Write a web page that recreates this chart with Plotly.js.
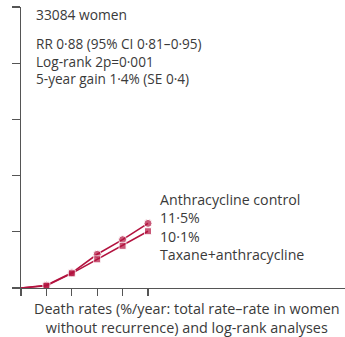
<!DOCTYPE html>
<html>
<head>
<meta charset="utf-8">
<script src="https://cdn.plot.ly/plotly-3.0.1.min.js"></script>
<style>html,body{margin:0;padding:0;background:#fff;}#chart{width:345px;height:337px;}</style>
</head>
<body>
<div id="chart"></div>
<script>
const years = [0, 1, 2, 3, 4, 5];
const anthracyclineControl = [0, 0.5, 2.7, 6.0, 8.6, 11.5];
const taxaneAnthracycline = [0, 0.4, 2.6, 5.1, 7.5, 10.1];
const xTicks = [0, 1, 2, 3, 4, 5];
const yTicks = [0, 10, 20, 30, 40, 50];
const statLines = ["RR 0·88 (95% CI 0·81–0·95)", "Log-rank 2p=0·001", "5-year gain 1·4% (SE 0·4)"];
const headline = "33084 women";
const seriesLabels = ["Anthracycline control", "11·5%", "10·1%", "Taxane+anthracycline"];
const xTitle = ["Death rates (%/year: total rate–rate in women", "without recurrence) and log-rank analyses"];

const red = '#b3133f';
const txt = '#3a3a3a';
const font = 'Open Sans, Noto Sans, sans-serif';
const markerSizes = years.map((y, i) => i === 0 ? 0 : 8);

const traces = [
  {x: years, y: anthracyclineControl, mode: 'lines+markers', line: {color: red, width: 1.6},
   marker: {symbol: 'circle', size: markerSizes, color: red}, hoverinfo: 'skip'},
  {x: years, y: taxaneAnthracycline, mode: 'lines+markers', line: {color: red, width: 1.6},
   marker: {symbol: 'square', size: markerSizes.map(s => s ? 7 : 0), color: red}, hoverinfo: 'skip'}
];

const W = 345, H = 337, L = 21, T = 7, B = 49;
const plotH = H - T - B, plotW = W - L;
const px = x => (x - L) / plotW;
const py = y => (H - B - y) / plotH;
function ann(text, x, y, anchor, size, align) {
  return {text: text, xref: 'paper', yref: 'paper', x: px(x), y: py(y), xanchor: anchor || 'left',
    yanchor: 'middle', align: align || 'left', showarrow: false, borderpad: 0,
    font: {family: font, size: size || 14, color: txt}};
}
const annotations = [
  ann(headline, 35, 14, 'left', 13.8),
  ann(statLines.join('<br>'), 35, 61, 'left', 13.6),
  ann(seriesLabels.join('<br>'), 159, 227, 'left', 14.2),
  ann(xTitle.join('<br>'), 187, 318, 'center', 14.4, 'center')
];

const layout = {
  width: W, height: H,
  margin: {l: L, r: 0, t: T, b: B, pad: 0},
  paper_bgcolor: '#fff', plot_bgcolor: '#fff',
  showlegend: false,
  font: {family: font, color: txt},
  xaxis: {range: [0, plotW / 25.4], tickvals: xTicks, showticklabels: false, ticks: 'outside',
    ticklen: 7, tickwidth: 1.3, tickcolor: '#555', showline: true, linecolor: '#555', linewidth: 1.3,
    showgrid: false, zeroline: false, fixedrange: true},
  yaxis: {range: [0, 50], tickvals: yTicks, showticklabels: false, ticks: 'outside',
    ticklen: 8, tickwidth: 1.3, tickcolor: '#555', showline: true, linecolor: '#555', linewidth: 1.3,
    showgrid: false, zeroline: false, fixedrange: true},
  annotations: annotations
};
Plotly.newPlot('chart', traces, layout, {displayModeBar: false, staticPlot: true});
</script>
</body>
</html>
